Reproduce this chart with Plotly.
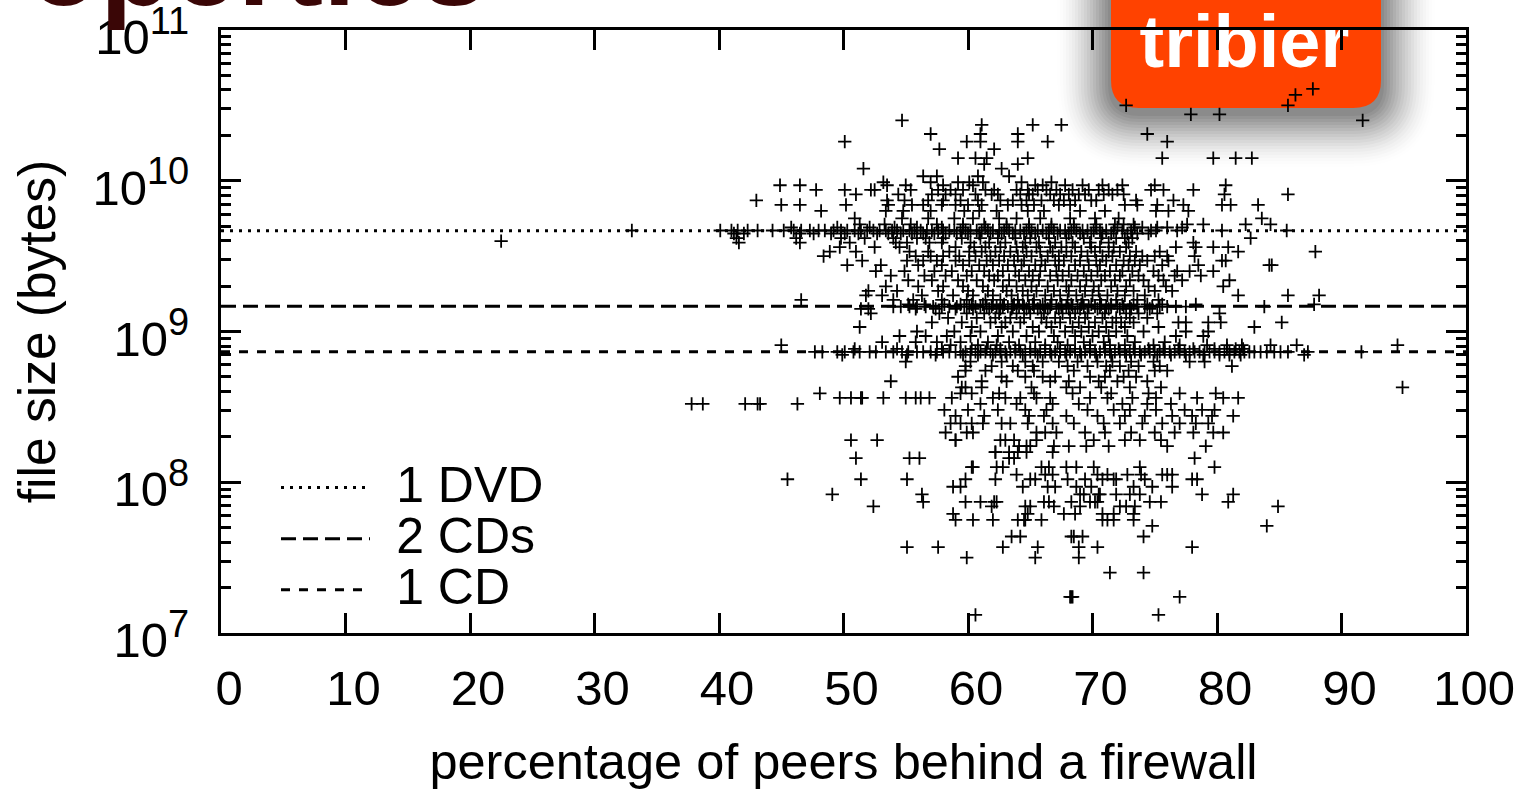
import plotly.graph_objects as go

# ---------- values ----------
X_TICKS = [0, 10, 20, 30, 40, 50, 60, 70, 80, 90, 100]
Y_TICKS = [1e7, 1e8, 1e9, 1e10, 1e11]
Y_TICK_EXP = ["7", "8", "9", "10", "11"]
DVD_BYTES = 4.66e9
CD2_BYTES = 1.47e9
CD1_BYTES = 7.35e8
LEGEND_NAMES = ["1 DVD", "2 CDs", "1 CD"]
X_TITLE = "percentage of peers behind a firewall"
Y_TITLE = "file size (bytes)"

# rows of (log10 file size, [percentage behind firewall, ...])
TOP_ROWS = [
    (10.61, [87.7]), (10.57, [86.3]), (10.50, [72.7, 85.7]), (10.44, [77.9, 80.2]),
    (10.40, [54.7, 91.7]), (10.37, [61.1, 65.2, 67.5]), (10.31, [57.0, 61.0, 64.0, 74.4]),
    (10.26, [50.1, 59.9, 61.0, 64.0, 66.4, 76.0]), (10.21, [57.7, 62.1]),
    (10.15, [59.2, 60.6, 61.5, 64.8, 75.6, 79.7, 81.5, 82.8]), (10.11, [61.3, 64.0]),
    (10.08, [51.6, 62.7]), (10.03, [56.4, 57.5, 60.8, 63.3]),
    (9.99, [53.2, 57.0, 59.2, 60.1, 61.2, 64.3, 66.7]),
    (9.97, [44.9, 46.5, 53.5, 55.0, 58.0, 60.4, 65.4, 66.0, 67.8, 69.2, 70.8, 72.4, 75.0, 80.7]),
    (9.94, [47.8, 50.1, 52.2, 52.5, 55.4, 57.6, 58.6, 59.6, 61.4, 62.1, 63.9, 64.8, 65.6, 66.3, 67.1, 68.4, 69.7, 70.5, 71.3, 72.0, 75.7, 74.7, 78.1]),
    (9.91, [51.0, 54.4, 57.1, 58.2, 59.0, 60.6, 61.9, 62.4, 64.2, 64.9, 65.2, 66.6, 67.4, 68.1, 68.9, 69.4, 70.9, 71.6, 72.5, 80.6, 85.7]),
    (9.87, [43.0, 53.5, 54.9, 56.8, 58.0, 59.4, 60.8, 62.6, 63.6, 64.7, 65.9, 66.9, 67.7, 68.6, 69.9, 70.3, 76.5, 73.5]),
    (9.84, [45.0, 46.5, 50.2, 53.6, 55.5, 56.4, 57.9, 59.0, 60.0, 61.1, 63.2, 64.3, 65.3, 67.3, 68.2, 72.6, 73.6, 75.2, 77.3, 80.4, 81.1, 83.3]),
    (9.80, [48.2, 53.4, 54.8, 57.0, 59.7, 60.9, 62.3, 64.8, 66.1, 69.0, 71.0, 75.1, 76.1, 77.7]),
    (9.75, [50.9, 54.7, 56.8, 58.9, 60.4, 62.5, 63.9, 65.8, 68.2, 70.2, 72.1, 83.6]),
    (9.71, [51.3, 53.3, 55.4, 57.5, 59.6, 61.3, 63.1, 64.9, 66.7, 68.5, 70.3, 71.8, 72.5, 73.3, 77.6, 78.9, 82.3, 84.3]),
]
DVD_ROWS = [
    (9.69, [45.8, 49.5, 52.1, 54.1, 55.9, 57.9, 59.6, 61.4, 63.1, 64.9, 66.7, 68.5, 70.3, 72.0, 73.4, 74.0, 75.2, 76.0, 77.2]),
    (9.67, [33.0, 40.1, 41.0, 41.5, 42.3, 43.1, 44.3, 45.2, 46.0, 46.6, 47.3, 48.0, 48.5, 49.2, 49.8, 50.3, 50.9, 51.4, 51.9, 52.4, 52.9, 53.4, 53.9, 54.3, 54.8, 55.3, 55.7, 56.2, 56.7, 57.1, 57.6, 58.0, 58.5, 58.9, 59.4, 59.8, 60.2, 60.7, 61.1, 61.6, 62.0, 62.5, 62.9, 63.3, 63.8, 64.2, 64.7, 65.1, 65.6, 66.0, 66.5, 66.9, 67.4, 67.8, 68.3, 68.7, 69.2, 69.6, 70.1, 70.6, 71.1, 71.7, 72.4, 73.1, 74.7, 75.1, 76.8, 80.4, 85.6]),
    (9.65, [41.2, 42.0, 46.5, 47.6, 49.0, 50.1, 51.2, 52.7, 53.6, 54.6, 55.5, 56.4, 57.3, 58.2, 59.1, 60.0, 60.9, 61.8, 62.7, 63.6, 64.5, 65.4, 66.3, 67.2, 68.1, 69.0, 69.9, 70.8, 71.5, 72.8, 73.6, 74.5]),
    (9.62, [41.4, 46.2, 49.8, 51.7, 54.0, 55.9, 56.6, 58.0, 59.5, 61.0, 62.4, 63.8, 65.0, 66.5, 67.9, 69.3, 70.7, 71.9, 72.6, 73.2, 82.7]),
    (9.59, [41.6, 46.5, 50.5, 54.2, 55.1, 56.9, 57.9, 60.2, 61.7, 63.0, 64.6, 65.7, 67.0, 68.4, 69.8, 71.3, 72.9, 78.1]),
]
CLOUD_ROWS = [
    (9.56, [49.7, 52.5, 54.5, 59.0, 60.5, 61.4, 62.6, 63.9, 64.4, 65.5, 66.6, 67.5, 68.6, 69.9, 70.6, 71.7, 72.7, 76.7, 78.3, 79.7, 80.9]),
    (9.53, [48.9, 51.0, 55.3, 56.8, 58.5, 60.1, 61.1, 62.2, 63.4, 64.7, 65.8, 66.8, 67.9, 69.1, 70.2, 71.3, 72.2, 73.5, 75.4, 81.7, 87.9]),
    (9.50, [48.4, 55.8, 57.0, 58.0, 59.3, 60.6, 61.8, 62.9, 64.0, 65.1, 66.4, 67.3, 68.3, 69.6, 70.8, 71.6, 73.0, 74.0, 75.0, 76.0, 78.2]),
    (9.47, [51.5, 55.1, 56.4, 57.5, 59.0, 60.1, 61.5, 62.5, 63.7, 64.5, 65.9, 67.0, 67.7, 69.0, 70.3, 71.1, 72.5, 73.4, 74.4, 76.1, 80.4, 80.7]),
    (9.44, [50.3, 53.0, 56.0, 57.9, 59.6, 60.9, 62.0, 63.2, 64.3, 65.4, 66.2, 67.3, 68.6, 69.7, 70.6, 71.9, 72.9, 73.8, 75.6, 78.5, 84.2, 84.4]),
    (9.40, [52.6, 54.9, 57.3, 58.7, 60.3, 61.3, 62.8, 63.8, 64.9, 65.8, 67.1, 68.1, 69.3, 70.4, 71.4, 72.4, 73.2, 74.9, 76.8, 77.8, 79.7]),
    (9.37, [53.8, 56.5, 58.2, 59.9, 61.7, 62.4, 64.1, 65.2, 66.6, 67.6, 68.8, 69.9, 71.0, 72.2, 73.7, 75.3, 76.6, 78.7]),
    (9.34, [55.2, 57.1, 59.2, 60.7, 62.1, 63.3, 64.6, 65.7, 67.2, 68.3, 69.5, 70.7, 71.8, 73.0, 74.1, 75.7, 77.2, 81.0]),
    (9.30, [53.4, 56.0, 58.0, 59.6, 61.2, 62.8, 63.9, 65.1, 66.4, 67.9, 69.0, 70.1, 71.5, 72.7, 74.5, 75.9, 80.5]),
    (9.27, [52.0, 54.3, 57.6, 60.0, 61.6, 63.1, 64.4, 65.5, 66.9, 68.1, 69.4, 70.5, 72.0, 73.3, 75.0, 76.4]),
    (9.24, [51.8, 53.1, 56.3, 58.8, 60.4, 62.0, 63.5, 64.8, 66.2, 67.4, 68.7, 70.0, 71.2, 72.6, 74.2, 81.7, 85.7, 88.2]),
    (9.21, [46.6, 54.0, 55.6, 57.9, 59.9, 61.4, 62.6, 64.0, 65.3, 66.7, 68.0, 69.2, 70.6, 71.9, 73.6, 75.3]),
]
CD2_ROWS = [
    (9.18, [55.2, 56.5, 58.1, 59.4, 60.3, 61.2, 62.0, 62.9, 63.7, 64.4, 65.2, 66.0, 66.7, 67.5, 68.3, 69.1, 69.9, 70.7, 71.5, 72.4, 73.3, 74.4, 75.6, 78.3, 87.8]),
    (9.165, [54.0, 54.6, 55.3, 55.9, 56.6, 57.2, 57.9, 58.5, 59.1, 59.7, 60.1, 60.6, 61.0, 61.5, 61.9, 62.3, 62.8, 63.2, 63.6, 64.1, 64.5, 64.9, 65.3, 65.8, 66.2, 66.6, 67.1, 67.5, 67.9, 68.4, 68.8, 69.3, 69.7, 70.2, 70.6, 71.1, 71.5, 72.0, 72.5, 73.0, 73.6, 74.2, 74.8, 75.4, 76.0, 76.7, 77.5, 83.8]),
    (9.15, [51.4, 52.0, 55.8, 57.4, 59.0, 60.4, 61.7, 62.6, 63.5, 64.7, 65.6, 66.4, 67.3, 68.1, 69.0, 70.4, 71.3, 72.2, 73.1, 74.6]),
    (9.12, [52.2, 57.7, 59.9, 61.3, 62.5, 63.9, 65.0, 66.1, 67.6, 68.6, 69.6, 71.0, 72.7, 73.7, 75.2, 80.2]),
]
MID_ROWS = [
    (9.09, [58.4, 60.7, 62.2, 63.4, 64.5, 65.9, 67.0, 68.2, 69.4, 70.8, 71.9, 73.0, 74.4]),
    (9.06, [57.1, 59.5, 61.8, 63.0, 64.2, 66.3, 67.4, 68.9, 70.2, 71.6, 72.3, 73.3, 77.5, 76.9, 79.3, 80.3, 85.2]),
    (9.03, [51.3, 60.3, 62.7, 65.2, 66.7, 68.4, 69.7, 71.1, 72.6, 75.3, 83.0]),
    (9.00, [55.9, 58.9, 61.0, 63.6, 65.7, 67.8, 69.1, 70.5, 71.9, 74.1, 77.5, 79.3]),
    (8.97, [54.5, 56.6, 58.3, 60.2, 62.4, 64.7, 66.9, 68.6, 70.0, 71.3, 72.8, 76.7, 78.9]),
    (8.93, [53.1, 55.8, 57.5, 59.4, 61.6, 63.3, 65.4, 67.2, 69.3, 70.9, 73.4, 75.8]),
    (8.91, [45.0, 58.6, 60.8, 62.3, 64.1, 66.2, 68.0, 69.8, 71.4, 72.6, 74.9, 77.0, 79.2, 80.8, 82.0, 84.3, 86.4, 94.5]),
]
CD1_ROWS = [
    (8.885, [50.9, 54.3, 57.9, 60.3, 61.5, 62.6, 63.8, 65.0, 66.2, 67.4, 68.6, 69.8, 71.0, 72.1, 73.3, 74.5, 75.7, 76.9, 78.1, 79.8, 80.8, 81.5, 82.1]),
    (8.865, [47.7, 48.3, 49.5, 50.1, 50.8, 51.3, 52.1, 52.6, 53.4, 54.0, 54.7, 55.2, 55.9, 56.4, 57.0, 57.5, 58.0, 58.5, 59.0, 59.4, 59.8, 60.2, 60.6, 61.0, 61.4, 61.8, 62.2, 62.6, 63.0, 63.4, 63.8, 64.2, 64.6, 65.0, 65.4, 65.8, 66.2, 66.6, 67.0, 67.4, 67.8, 68.2, 68.6, 69.0, 69.4, 69.8, 70.2, 70.6, 71.0, 71.4, 71.8, 72.2, 72.6, 73.0, 73.4, 73.8, 74.2, 74.6, 75.0, 75.4, 75.8, 76.2, 76.6, 77.0, 77.4, 77.8, 78.2, 78.6, 79.0, 79.4, 79.8, 80.2, 80.6, 81.0, 81.4, 81.8, 82.2, 82.6, 83.0, 83.5, 84.0, 84.6, 85.1, 85.7, 87.3, 91.6]),
    (8.845, [49.9, 55.1, 57.4, 59.6, 60.8, 62.0, 63.1, 64.4, 65.6, 66.7, 67.9, 69.1, 70.3, 71.5, 72.7, 73.9, 75.2, 76.3, 77.5, 78.9, 80.2, 81.0, 81.9, 87.0]),
]
LOW_ROWS = [
    (8.80, [55.0, 60.2, 62.7, 64.6, 66.0, 67.3, 68.8, 70.4, 71.6, 73.1, 74.9, 77.8, 79.0]),
    (8.77, [59.8, 61.9, 63.6, 65.2, 68.0, 69.6, 71.1, 72.2, 73.7, 75.4, 81.2]),
    (8.74, [61.4, 64.0, 65.3, 68.5, 71.4, 72.9, 75.0, 76.0, 59.8]),
    (8.70, [59.2, 62.7, 64.6, 66.0, 67.0, 69.8, 71.0, 72.5, 73.5]),
    (8.67, [53.8, 61.1, 63.1, 66.6, 68.1, 70.5, 72.0, 74.4]),
    (8.63, [59.5, 59.8, 61.1, 65.1, 67.9, 69.0, 70.7, 73.0, 75.5, 94.9]),
    (8.59, [48.1, 59.4, 60.3, 62.5, 65.3, 68.4, 71.5, 74.5, 77.0, 79.9]),
    (8.56, [49.7, 50.6, 51.4, 51.5, 53.2, 55.0, 55.8, 56.2, 56.9, 58.7, 62.0, 63.0, 64.2, 65.5, 66.6, 69.8, 71.2, 73.2, 75.1, 78.4, 80.5, 81.7]),
    (8.52, [37.8, 38.7, 42.1, 43.3, 43.1, 46.3, 61.0, 63.9, 66.8, 68.9, 72.4, 74.4, 76.3]),
    (8.48, [58.1, 60.0, 62.4, 64.6, 66.3, 69.6, 71.7, 73.0, 75.1, 77.4, 78.8, 79.8]),
    (8.44, [59.0, 61.3, 64.9, 66.1, 67.9, 70.4, 72.6, 74.2, 76.4, 78.0, 79.6, 81.3]),
    (8.39, [58.6, 59.4, 60.3, 61.2, 62.7, 63.4, 64.8, 66.8, 68.5, 70.9, 72.2, 74.0, 75.6, 77.0, 78.3, 79.3]),
    (8.33, [58.2, 59.9, 60.4, 65.5, 66.2, 67.1, 69.4, 71.0, 73.1, 75.0, 76.6, 78.1, 79.7, 80.5]),
    (8.28, [50.6, 52.7, 59.0, 59.0, 62.6, 63.0, 63.7, 65.5, 70.1, 72.6, 73.8, 75.5]),
    (8.24, [64.1, 65.0, 64.7, 66.9, 68.1, 69.5, 71.3, 79.1, 76.0]),
    (8.20, [62.2, 64.0, 62.2, 63.3, 66.8, 64.7]),
    (8.16, [51.0, 56.1, 55.3, 63.3, 63.7, 78.2]),
    (8.10, [60.3, 62.8, 62.3, 65.9, 68.7, 67.9, 66.5, 73.8, 70.1, 79.8, 60.4]),
    (8.05, [63.9, 66.2, 66.8, 71.2, 70.4, 72.8, 73.9, 76.4, 76.0, 75.6]),
    (8.02, [45.5, 51.4, 55.1, 59.8, 65.4, 65.0, 62.2, 68.0, 69.4, 70.8, 71.7, 71.9, 74.2, 78.4, 78.0]),
    (7.97, [58.8, 59.4, 64.4, 66.4, 67.0, 68.7, 69.9, 73.3, 74.8, 76.4]),
    (7.92, [49.1, 56.3, 69.0, 69.3, 70.6, 70.5, 71.9, 73.0, 78.8, 81.3, 73.8]),
    (7.87, [56.4, 59.8, 61.0, 62.1, 62.3, 66.1, 66.5, 68.3, 70.4, 69.8, 74.6, 75.5, 80.9, 70.2]),
    (7.84, [52.4, 61.9, 65.0, 64.6, 66.9, 69.0, 72.2, 72.7, 73.4, 84.9]),
    (7.79, [58.8, 64.8, 68.6, 67.7, 71.7, 70.8, 73.3]),
    (7.75, [59.0, 60.4, 62.0, 64.0, 64.6, 64.5, 65.9, 70.8, 71.7, 71.2, 73.3]),
    (7.71, [74.8, 84.0]),
    (7.64, [63.5, 64.2, 68.3, 68.5, 69.2, 74.1]),
    (7.57, [55.1, 57.6, 65.6, 68.9, 70.4, 62.8, 78.0]),
    (7.50, [59.9, 65.4, 68.9]),
    (7.40, [71.4, 74.1]),
    (7.24, [68.4, 68.3, 68.2, 77.0]),
    (7.12, [60.6, 75.3]),
]
ISOLATED_PCT = [22.5]
ISOLATED_LOG = [9.60]

ALL_ROWS = TOP_ROWS + DVD_ROWS + CLOUD_ROWS + CD2_ROWS + MID_ROWS + CD1_ROWS + LOW_ROWS
pct = [p for _, row in ALL_ROWS for p in row] + ISOLATED_PCT
size = [10 ** s for s, row in ALL_ROWS for _ in row] + [10 ** s for s in ISOLATED_LOG]

W, H = 1521, 790
L, R, T, B = 221, 1466, 30, 633
px = lambda v: (v - L) / (R - L)
py = lambda v: (B - v) / (B - T)


def round_rect(x0, y0, x1, y1, r):
    return (f"M{px(x0)},{py(y0)} L{px(x1)},{py(y0)} L{px(x1)},{py(y1 - r)} "
            f"Q{px(x1)},{py(y1)} {px(x1 - r)},{py(y1)} L{px(x0 + r)},{py(y1)} "
            f"Q{px(x0)},{py(y1)} {px(x0)},{py(y1 - r)} Z")


fig = go.Figure()
fig.add_trace(go.Scatter(x=pct, y=size, mode="markers", showlegend=False, hoverinfo="skip",
                         marker=dict(symbol="cross-thin", size=9.5, line=dict(width=1.8, color="black"))))
for name, val, dash in zip(LEGEND_NAMES, [DVD_BYTES, CD2_BYTES, CD1_BYTES],
                           ["3px,6px", "15px,7px", "9px,9px"]):
    fig.add_trace(go.Scatter(x=[0, 100], y=[val, val], mode="lines",
                             name=f'<span style="font-size:38px">\u00a0\u00a0</span><span style="font-size:50px">{name}</span>',
                             line=dict(color="black", width=3, dash=dash)))
fig.add_trace(go.Scatter(x=[82.2], y=[10 ** 10.88], mode="text", text=["tribier"], cliponaxis=False,
                         showlegend=False, hoverinfo="skip",
                         textfont=dict(family="Liberation Sans", size=74, color="white", weight="bold")))

shapes = []
for grow in range(54, 0, -3):
    shapes.append(dict(type="path", xref="paper", yref="paper", layer="below",
                       path=round_rect(1111 - grow, -20, 1381 + grow, 108 + 5 + grow, 28 + grow),
                       fillcolor="black", opacity=0.0016 * (56 - grow) ** 0.9, line_width=0))
shapes.append(dict(type="path", xref="paper", yref="paper", layer="below",
                   path=round_rect(1111, -20, 1381, 108, 28),
                   fillcolor="#FF4200", line_width=0))

AXIS = dict(showline=True, linecolor="black", linewidth=3, mirror="allticks", showgrid=False, zeroline=False,
            automargin=False, ticks="inside", ticklen=20, tickwidth=2.5, tickcolor="black", tickfont=dict(size=49))

fig.update_layout(
    width=W, height=H, autosize=False,
    margin=dict(l=L, r=W - R, t=T, b=H - B, pad=0, autoexpand=False),
    paper_bgcolor="white", plot_bgcolor="rgba(0,0,0,0)",
    font=dict(family="Liberation Sans", size=46, color="black"),
    showlegend=True,
    legend=dict(x=px(276), y=py(457), xanchor="left", yanchor="top",
                bgcolor="rgba(0,0,0,0)", itemwidth=89, font=dict(size=37), tracegroupgap=0),
    shapes=shapes,
    xaxis=dict(AXIS, range=[0, 100], tickmode="array", tickvals=X_TICKS, ticktext=[str(t) for t in X_TICKS],
               ticklabelshift=8, ticklabelstandoff=10,
               title=dict(text=X_TITLE, standoff=32, font=dict(size=50.5))),
    yaxis=dict(AXIS, type="log", range=[7, 11], tickmode="array", tickvals=Y_TICKS,
               ticktext=[f'10<sup><span style="font-size:38px">{e}</span></sup>' for e in Y_TICK_EXP],
               ticklabelstandoff=19, ticklabelshift=7, ticklabeloverflow="allow",
               minor=dict(ticks="inside", ticklen=10, tickwidth=2.5, tickcolor="black",
                          tickvals=[m * 10 ** e for e in range(7, 11) for m in range(2, 10)]),
               title=dict(text=Y_TITLE, standoff=21, font=dict(size=51.5))),
    annotations=[dict(text="<b>operties</b>", xref="paper", yref="paper", x=px(26), y=py(4),
                      xanchor="left", yanchor="bottom", yshift=-28, showarrow=False,
                      font=dict(family="Liberation Sans", size=118, color="#3A0606"))],
)
fig.write_html("out.html", config=dict(displayModeBar=False),
               post_script="document.body.style.margin='0';document.body.style.overflow='hidden';")
